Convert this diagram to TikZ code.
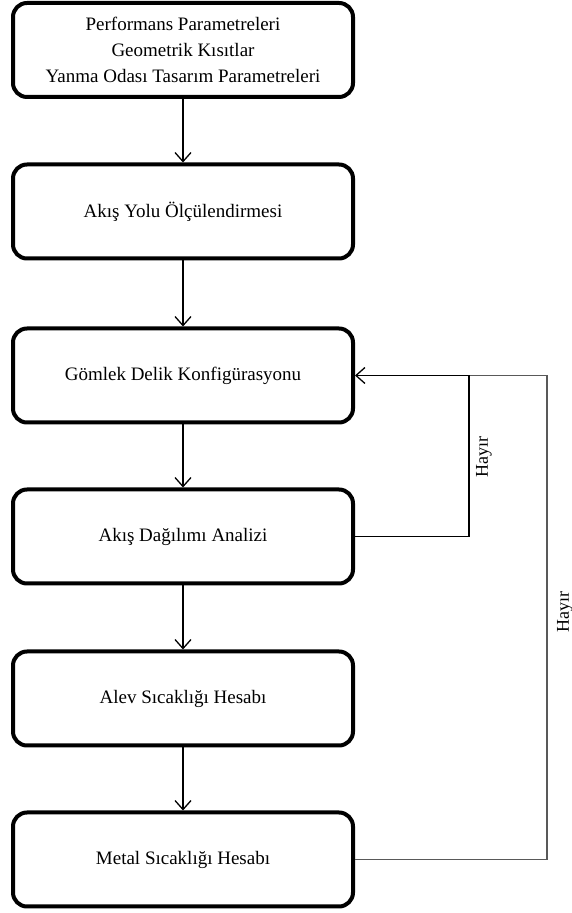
\documentclass[tikz,border=0pt]{standalone}
\usepackage{fontspec}
\setmainfont{Liberation Serif}
\usetikzlibrary{arrows.meta}
\begin{document}
\begin{tikzpicture}[x=1pt,y=1pt,
  stepbox/.style={draw=black, line width=4pt, rounded corners=14pt, minimum width=340pt, minimum height=94pt, align=center, font=\fontsize{19}{26}\selectfont, inner sep=0pt},
  flow/.style={draw=black, line width=1.3pt, -{Straight Barb[length=9pt,width=16pt,line width=1.3pt]}},
  loopline/.style={draw=black, line width=1.3pt},
  outerline/.style={draw=black!65, line width=1.8pt},
  lbl/.style={font=\fontsize{18}{20}\selectfont, rotate=90, inner sep=0pt}
]
\useasboundingbox (0,0) rectangle (572,913);
\node[stepbox] (b1) at (183,863) {Performans Parametreleri\\Geometrik Kısıtlar\\Yanma Odası Tasarım Parametreleri};
\node[stepbox] (b2) at (183,701.5) {Akış Yolu Ölçülendirmesi};
\node[stepbox] (b3) at (183,537.5) {Gömlek Delik Konfigürasyonu};
\node[stepbox] (b4) at (183,376.5) {Akış Dağılımı Analizi};
\node[stepbox] (b5) at (183,214.5) {Alev Sıcaklığı Hesabı};
\node[stepbox] (b6) at (183,53.5) {Metal Sıcaklığı Hesabı};
\draw[flow] (b1) -- (b2);
\draw[flow] (b2) -- (b3);
\draw[flow] (b3) -- (b4);
\draw[flow] (b4) -- (b5);
\draw[flow] (b5) -- (b6);
\coordinate (ji) at (469,537.5);
\coordinate (jo) at (547,537.5);
\draw[outerline] (b6.east) -| (jo) -- (ji);
\draw[loopline] (b4.east) -| (ji);
\draw[flow] (ji) -- (b3.east);
\node[lbl] (h1) at (484,456) {Hayır};
\node[lbl] (h2) at (565,301) {Hayır};
\end{tikzpicture}
\end{document}
